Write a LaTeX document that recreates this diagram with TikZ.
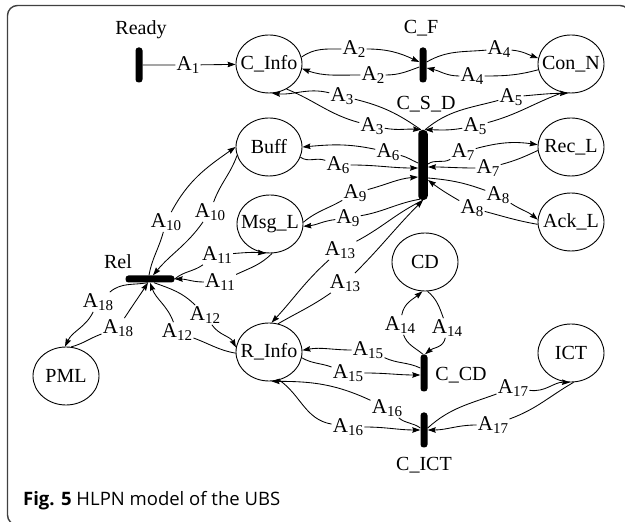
\documentclass[tikz,border=0pt]{standalone}
\usepackage{fontspec}
\setmainfont{Liberation Serif}
\newfontfamily\capfont{Open Sans}
\usetikzlibrary{shapes.geometric,arrows.meta,calc}

% arc label: A with a lowered index
\newcommand\Asub[1]{A\raisebox{-3pt}{\fontsize{15}{15}\selectfont #1}}
% place text that does not widen the ellipse
\newcommand\ptxt[1]{\makebox[0pt]{#1}}

\begin{document}
\begin{tikzpicture}[x=1pt,y=1pt,
  place/.style={ellipse, draw, line width=0.9pt, minimum width=66pt, minimum height=58pt,
    inner sep=0pt, font=\fontsize{20}{22}\selectfont},
  trans/.style={fill=black, rounded corners=3pt, minimum width=7pt, minimum height=35pt, inner sep=0pt},
  tname/.style={font=\fontsize{20}{22}\selectfont, inner sep=0pt},
  lab/.style={inner sep=1.2pt, font=\fontsize{21}{23}\selectfont},
  pnarc/.style={line width=0.85pt, -{Stealth[length=8pt,width=5.5pt,inset=1pt]}},
]
\useasboundingbox (0,0) rectangle (625,522);
\clip (0,0) rectangle (625,522);
% frame: only its left and top sides fall inside the picture
\draw[line width=1.4pt, black!75, rounded corners=10pt] (7.5,-3) rectangle (630,516.5);

% places
\node[place] (cinfo) at (269,458) {\ptxt{C\_Info}};
\node[place] (conn)  at (571,458) {\ptxt{Con\_N}};
\node[place] (buff)  at (269,375) {\ptxt{Buff}};
\node[place] (recl)  at (571,375) {\ptxt{Rec\_L}};
\node[place] (msgl)  at (270,298) {\ptxt{Msg\_L}};
\node[place] (ackl)  at (571,300) {\ptxt{Ack\_L}};
\node[place] (cd)    at (425,260) {\ptxt{CD}};
\node[place] (rinfo) at (269,170) {\ptxt{R\_Info}};
\node[place] (ict)   at (571,169) {\ptxt{ICT}};
\node[place] (pml)   at (66,146)  {\ptxt{PML}};

% transitions
\node[trans] (ready) at (139,457) {};
\node[trans] (cf)    at (423,457) {};
\node[trans, minimum width=9.5pt, minimum height=70pt, rounded corners=4pt] (csd) at (423,357) {};
\node[trans, minimum width=49pt, minimum height=7pt] (rel) at (150,243) {};
\node[trans, minimum height=37pt] (ccd) at (424,149) {};
\node[trans] (cict)  at (424,92) {};

% transition names
\node[tname] (readyname) at (141,492) {Ready};
\node[tname] (cfname)    at (421,494) {C\_F};
\node[tname] (csdname)   at (426,418) {C\_S\_D};
\node[tname] (relname)   at (118,260) {Rel};
\node[tname] (ccdname)   at (461,147) {C\_CD};
\node[tname] (cictname)  at (424,57)  {C\_ICT};

% arc labels
\node[lab] (l1)   at (188,457) {\Asub{1}};
\node[lab] (l2a)  at (354,473) {\Asub{2}};
\node[lab] (l2b)  at (373,447) {\Asub{2}};
\node[lab] (l4a)  at (499,473) {\Asub{4}};
\node[lab] (l4b)  at (472,446) {\Asub{4}};
\node[lab] (l3a)  at (342,426) {\Asub{3}};
\node[lab] (l3b)  at (372,396) {\Asub{3}};
\node[lab] (l5a)  at (511,425) {\Asub{5}};
\node[lab] (l5b)  at (475,396) {\Asub{5}};
\node[lab] (l6a)  at (388,370) {\Asub{6}};
\node[lab] (l6b)  at (338,357) {\Asub{6}};
\node[lab] (l7a)  at (463,370) {\Asub{7}};
\node[lab] (l7b)  at (488,354) {\Asub{7}};
\node[lab] (l8a)  at (498,327) {\Asub{8}};
\node[lab] (l8b)  at (472,314) {\Asub{8}};
\node[lab] (l9a)  at (355,329) {\Asub{9}};
\node[lab] (l9b)  at (348,304) {\Asub{9}};
\node[lab] (l13a) at (340,272) {\Asub{13}};
\node[lab] (l13b) at (345,239) {\Asub{13}};
\node[lab] (l10a) at (166,300) {\Asub{10}};
\node[lab] (l10b) at (210,310) {\Asub{10}};
\node[lab] (l11a) at (217,267) {\Asub{11}};
\node[lab] (l11b) at (220,240) {\Asub{11}};
\node[lab] (l12a) at (205,207) {\Asub{12}};
\node[lab] (l12b) at (177,190) {\Asub{12}};
\node[lab] (l18a) at (98,220)  {\Asub{18}};
\node[lab] (l18b) at (118,194) {\Asub{18}};
\node[lab] (l14a) at (400,197) {\Asub{14}};
\node[lab] (l14b) at (447,194) {\Asub{14}};
\node[lab] (l15a) at (368,172) {\Asub{15}};
\node[lab] (l15b) at (348,149) {\Asub{15}};
\node[lab] (l16a) at (387,114) {\Asub{16}};
\node[lab] (l16b) at (348,95)  {\Asub{16}};
\node[lab] (l17a) at (513,134) {\Asub{17}};
\node[lab] (l17b) at (493,97)  {\Asub{17}};

% attachment points on the bars
\coordinate (cfWa)  at ($(cf.west)+(0,3)$);
\coordinate (cfWb)  at ($(cf.west)+(0,-2)$);
\coordinate (cfEa)  at ($(cf.east)+(0,3)$);
\coordinate (cfEb)  at ($(cf.east)+(0,-3)$);
\coordinate (csdTa) at ($(csd.north)+(-2,0)$);
\coordinate (csdTb) at ($(csd.north)+(2,0)$);
\coordinate (csdWa) at ($(csd.west)+(0,2)$);
\coordinate (csdWb) at ($(csd.west)+(0,-3)$);
\coordinate (csdWc) at ($(csd.west)+(0,-12)$);
\coordinate (csdEa) at ($(csd.east)+(0,1)$);
\coordinate (csdEb) at ($(csd.east)+(0,-2)$);
\coordinate (csdEc) at ($(csd.east)+(0,-13)$);
\coordinate (csdEd) at ($(csd.east)+(0,-15)$);
\coordinate (csdB)  at ($(csd.south)+(-3,1)$);
\coordinate (relTa) at ($(rel.north)+(-1,0)$);
\coordinate (relTb) at ($(rel.north)+(3,0)$);
\coordinate (relBa) at ($(rel.south)+(4,0)$);
\coordinate (relBb) at (rel.south);
\coordinate (relBc) at ($(rel.south)+(-2,0)$);
\coordinate (ccdTa) at ($(ccd.north)+(-1,0)$);
\coordinate (ccdTb) at ($(ccd.north)+(1,0)$);
\coordinate (ccdWa) at ($(ccd.west)+(0,5)$);
\coordinate (ccdWb) at ($(ccd.west)+(0,-2)$);
\coordinate (cictWa) at ($(cict.west)+(0,2)$);
\coordinate (cictEa) at ($(cict.east)+(0,2)$);

% arcs
\draw[pnarc] (ready) -- (l1) -- (cinfo);

\draw[pnarc] (cinfo.12) to[out=35,in=180] (l2a) to[out=0,in=155] (cfWa);
\draw[pnarc] (cfWb) to[out=200,in=0] (l2b) to[out=180,in=-20] (cinfo.-8);

\draw[pnarc] (cfEa) to[out=30,in=185] (l4a) to[out=-5,in=160] (conn.170);
\draw[pnarc] (conn.190) to[out=195,in=0] (l4b) to[out=180,in=-12] (cfEb);

\draw[pnarc] (csdTa) to[out=145,in=-14] (l3a) to[out=166,in=-5] (cinfo.-84);
\draw[pnarc] (cinfo.-55) to[out=-22,in=165] (l3b) to[out=-10,in=175] (csdTa);

\draw[pnarc] (csdTb) to[out=40,in=195] (l5a) to[out=5,in=180] (conn.-96);
\draw[pnarc] (conn.-106) to[out=200,in=15] (l5b) to[out=190,in=0] (csdTb);

\draw[pnarc] (csdWa) to[out=157,in=-15] (l6a) to[out=168,in=5] (buff.east);
\draw[pnarc] (buff.-18) to[out=-35,in=160] (l6b) to[out=0,in=180] (csdWb);

\draw[pnarc] (csdEa) to[out=35,in=210] (l7a) to[out=15,in=172] (recl.176);
\draw[pnarc] (recl.186) to[out=205,in=15] (l7b) to[out=180,in=0] (csdEb);

\draw[pnarc] (csdEc) to[out=-5,in=160] (l8a) to[out=-33,in=140] (ackl.176);
\draw[pnarc] (ackl.184) to[out=170,in=-15] (l8b) to[out=150,in=-37] (csdEd);

\draw[pnarc] (msgl.3) to[out=40,in=210] (l9a) to[out=15,in=185] (csdWc);
\draw[pnarc] (csdB) to[out=190,in=10] (l9b) to[out=187,in=5] (msgl.-4);

\draw[pnarc] (csd.south) to[out=206,in=28] (l13a) to[out=222,in=47] (rinfo.85);
\draw[pnarc] (rinfo.72) to[out=30,in=215] (l13b) to[out=45,in=225] (csd.south);

\draw[pnarc] (relTa) to[out=80,in=255] (l10a) to[out=62,in=215] (buff.180);
\draw[pnarc] (buff.195) to[out=250,in=70] (l10b) to[out=235,in=50] (relTb);

\draw[pnarc] (rel.east) to[out=40,in=215] (l11a) to[out=5,in=175] (msgl.-98);
\draw[pnarc] (msgl.-86) to[out=225,in=25] (l11b) to[out=180,in=0] (rel.east);

\draw[pnarc] (relBa) to[out=-20,in=135] (l12a) to[out=-55,in=118] (rinfo.172);
\draw[pnarc] (rinfo.182) to[out=170,in=-20] (l12b) to[out=110,in=-70] (relBb);

\draw[pnarc] (relBc) to[out=190,in=40] (l18a) to[out=244,in=64] (pml.92);
\draw[pnarc] (pml.80) to[out=15,in=200] (l18b) to[out=57,in=237] (relBc);

\draw[pnarc] (ccdTa) to[out=140,in=-70] (l14a) to[out=80,in=220] (cd.-95);
\draw[pnarc] (cd.-85) to[out=-40,in=110] (l14b) to[out=-100,in=40] (ccdTb);

\draw[pnarc] (ccdWa) to[out=155,in=-25] (l15a) to[out=180,in=10] (rinfo.3);
\draw[pnarc] (rinfo.-10) to[out=-30,in=160] (l15b) to[out=0,in=180] (ccdWb);

\draw[pnarc] (cictWa) to[out=143,in=-40] (l16a) to[out=155,in=0] (rinfo.-85);
\draw[pnarc] (rinfo.-70) to[out=-35,in=170] (l16b) to[out=0,in=180] (cict.west);

\draw[pnarc] (cictEa) to[out=42,in=200] (l17a) to[out=-8,in=178] (ict.-92);
\draw[pnarc] (ict.-85) to[out=210,in=20] (l17b) to[out=180,in=0] (cict.east);

% caption
\node[anchor=base west, inner sep=0pt, font=\capfont\fontsize{18.5}{21}\selectfont] (caption) at (23,16)
  {\textbf{Fig. 5} HLPN model of the UBS};
\end{tikzpicture}
\end{document}
